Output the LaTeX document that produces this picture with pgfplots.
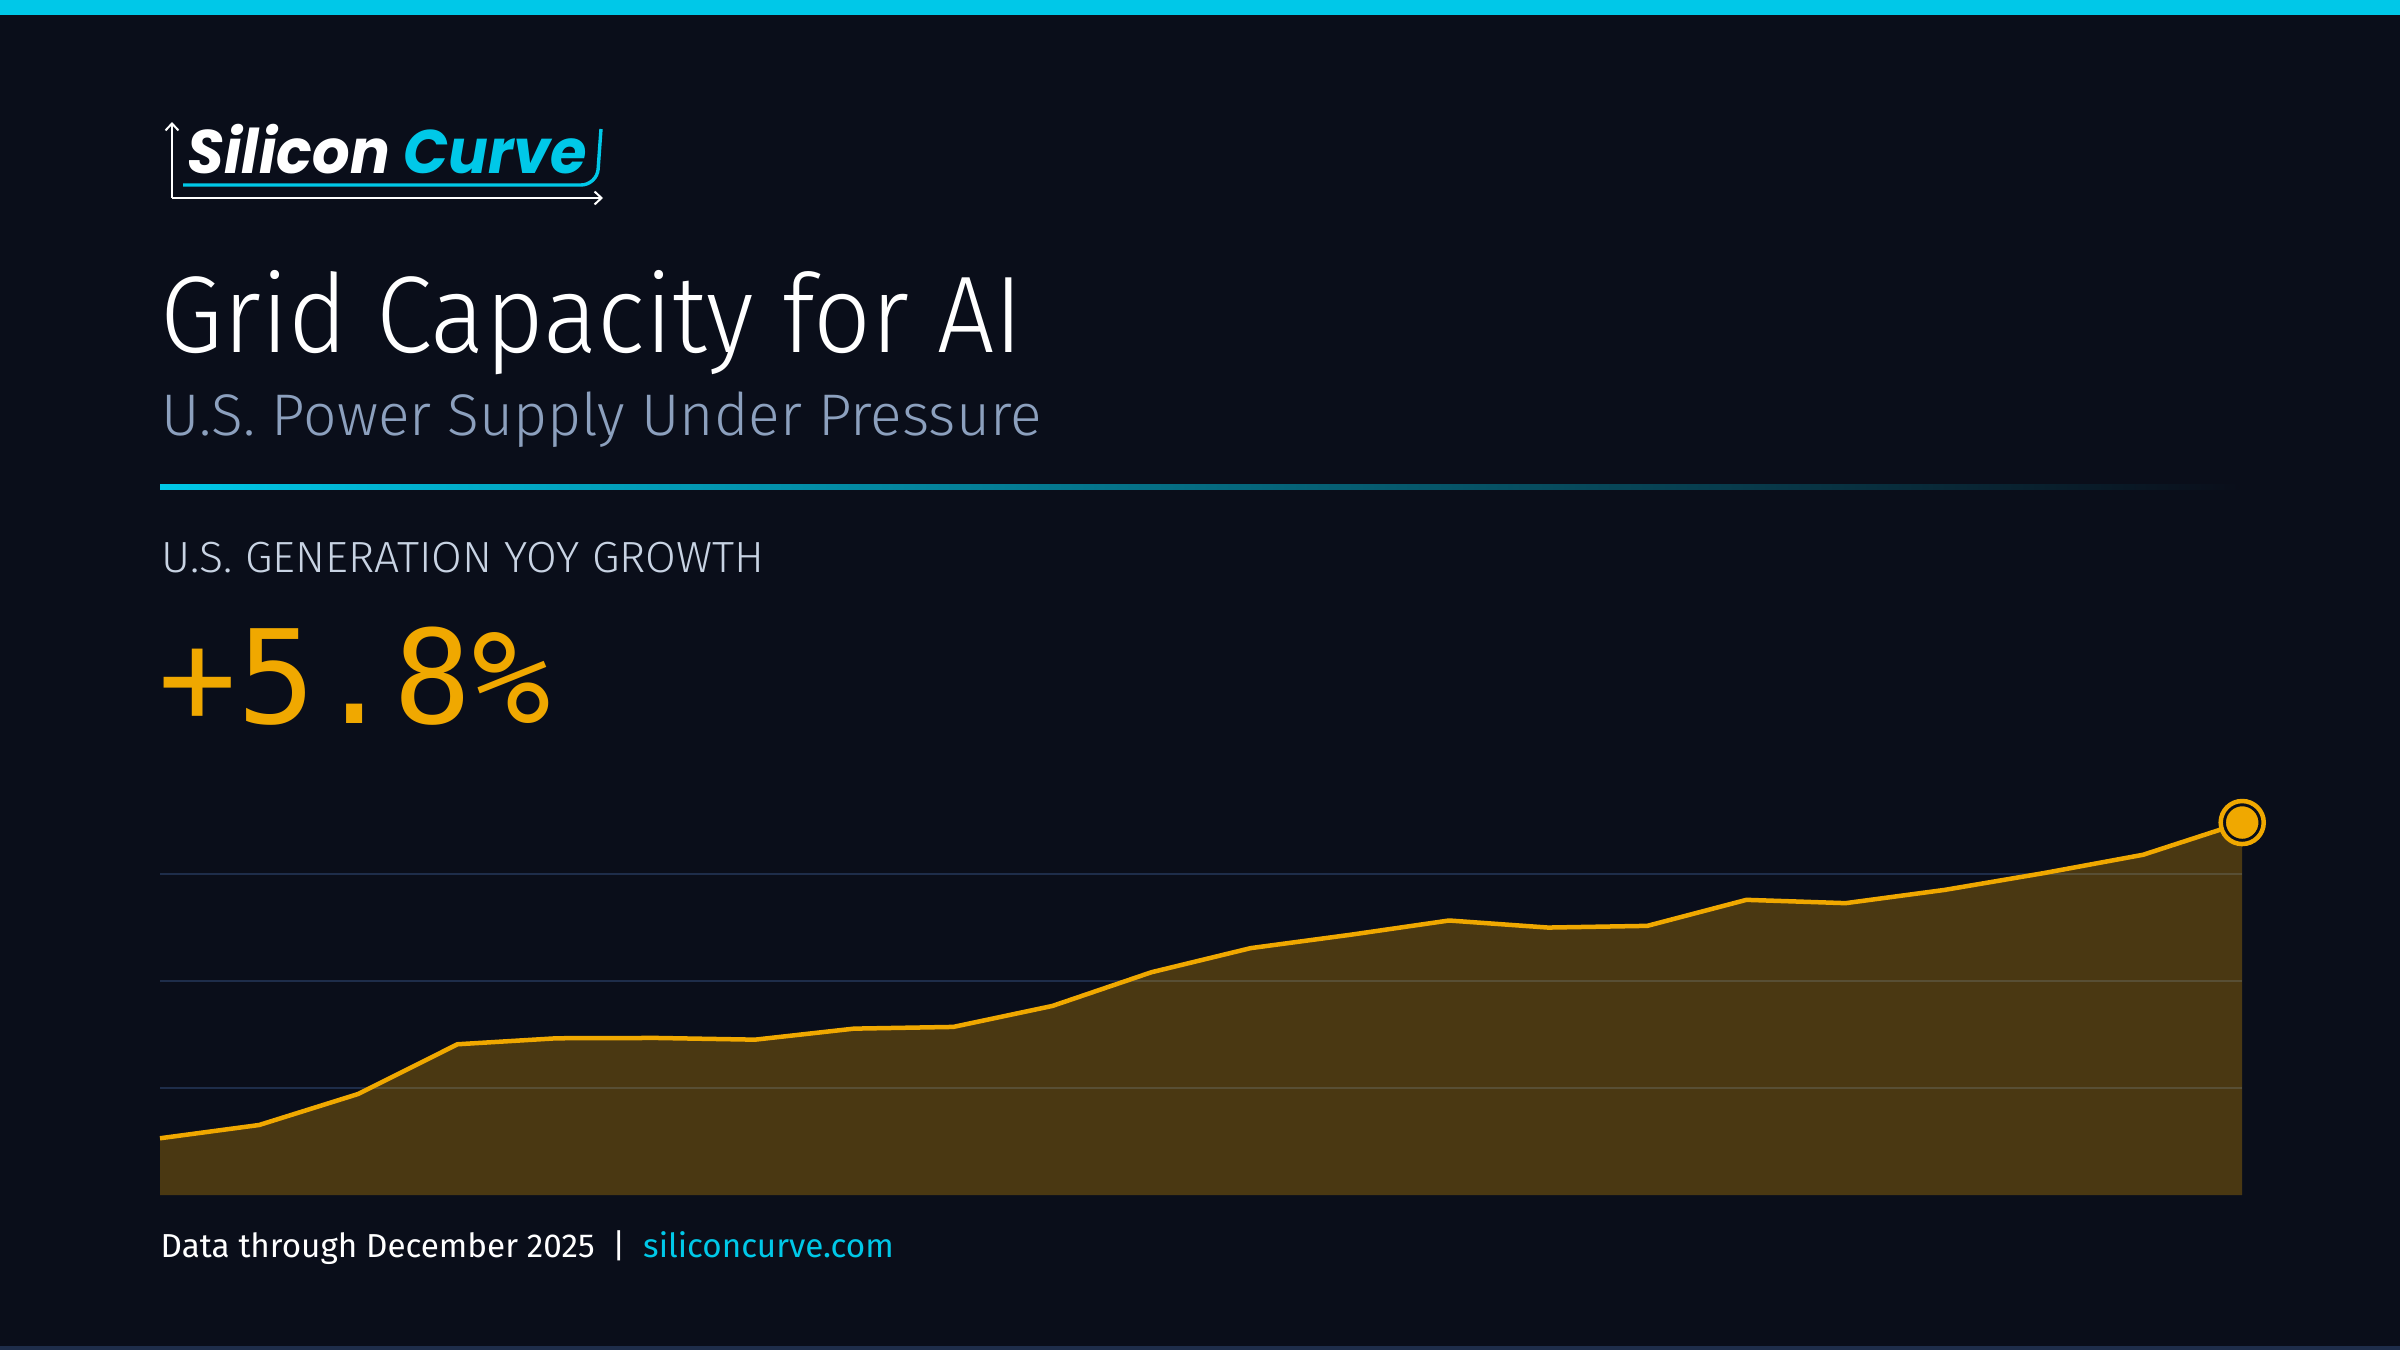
\documentclass[border=0pt]{standalone}
\usepackage{pgfplots}
\pgfplotsset{compat=1.18}
\usepackage{pgfplotstable}
\usetikzlibrary{arrows.meta}
\usepackage{fontspec}
\newfontfamily\titlefont{Fira Sans Light}
\newfontfamily\bodyfont{Fira Sans}
\newfontfamily\logofont{Poppins}
\newfontfamily\numfont{DejaVu Sans Mono}
\definecolor{bg}{HTML}{0A0E1A}
\definecolor{cyanc}{HTML}{00C8E8}
\definecolor{amber}{HTML}{F0A800}
\definecolor{subc}{HTML}{8CA0BE}
\definecolor{labc}{HTML}{C8D3E3}
\definecolor{gridc}{HTML}{1E2D4A}
\definecolor{sepmid}{HTML}{1E3A5F}
\pgfplotstableread{
x y
0 0.530
1 0.654
2 0.944
3 1.408
4 1.464
5 1.467
6 1.451
7 1.554
8 1.570
9 1.766
10 2.081
11 2.306
12 2.430
13 2.564
14 2.498
15 2.514
16 2.757
17 2.726
18 2.850
19 3.007
20 3.178
21 3.479
}\growth
\begin{document}
\begin{tikzpicture}[x=0.01cm,y=0.01cm]
\useasboundingbox (0,0) rectangle (2400,1350);
\fill[bg] (0,0) rectangle (2400,1350);
\fill[cyanc] (0,1335) rectangle (2400,1350);
\fill[gridc] (0,0) rectangle (2400,4);
\coordinate (AX) at (160,155);
% logo
\draw[white, line width=0.02cm, -{Straight Barb[length=0.07cm,width=0.13cm]}] (172,1152) -- (172,1228);
\draw[white, line width=0.02cm, -{Straight Barb[length=0.07cm,width=0.13cm]}] (172,1152) -- (603,1152);
\draw[cyanc, line width=0.034cm, rounded corners=0.16cm] (183,1165) -- (597,1165) -- (601,1221);
\node[anchor=base west, inner sep=0pt, xscale=0.96, font={\logofont\bfseries\itshape\fontsize{17.5pt}{20pt}\selectfont}] at (187,1177) {\textcolor{white}{Silicon} \textcolor{cyanc}{Curve}};
% titles
\node[anchor=base west, inner sep=0pt, xscale=0.93, text=white, font={\titlefont\fontsize{31pt}{34pt}\selectfont}] at (160,998) {Grid Capacity for AI};
\node[anchor=base west, inner sep=0pt, text=subc, font={\titlefont\fontsize{16.7pt}{19pt}\selectfont}] at (161,915) {U.S. Power Supply Under Pressure};
\shade[left color=cyanc, middle color=sepmid, right color=bg] (160,861) rectangle (2240,866);
\node[anchor=base west, inner sep=0pt, xscale=1.02, text=labc, font={\titlefont\fontsize{12.4pt}{14pt}\selectfont}] at (161,778) {U.S. GENERATION YOY GROWTH};
\node[anchor=base west, inner sep=0pt, text=amber, font={\numfont\fontsize{37pt}{40pt}\selectfont}] at (158,627) {+5.8\%};
\node[anchor=base west, inner sep=0pt, font={\bodyfont\fontsize{9.45pt}{11pt}\selectfont}] at (160,93) {\textcolor{white}{Data through December 2025\ \ |\ \ }\textcolor{cyanc}{siliconcurve.com}};
% chart
\begin{axis}[
  at={(AX)}, anchor=south west,
  scale only axis, width=20.81cm, height=3.852cm,
  xmin=0, xmax=21, ymin=0, ymax=3.6,
  axis line style={draw=none},
  major tick length=0pt,
  xtick=\empty, ytick={1,2,3}, yticklabels={},
  ymajorgrids, grid style={color=gridc, line width=0.02cm},
  clip=false,
]
\addplot[draw=none, fill=amber, fill opacity=0.28] table[x=x,y=y] {\growth} \closedcycle;
\addplot[amber, line width=0.045cm, line join=round] table[x=x,y=y] {\growth};
\addplot[only marks, mark=*, mark size=5.2pt, mark options={fill=amber, draw=bg, line width=0.04cm}] coordinates {(21,3.479)};
\addplot[only marks, mark=o, mark size=6.12pt, mark options={draw=amber, line width=0.045cm, fill=none}] coordinates {(21,3.479)};
\end{axis}
\end{tikzpicture}
\end{document}
